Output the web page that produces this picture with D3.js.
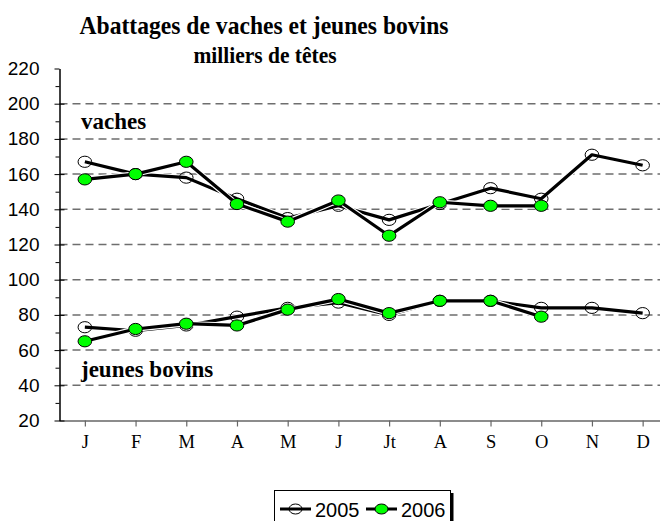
<!DOCTYPE html>
<html>
<head>
<meta charset="utf-8">
<script src="https://cdn.jsdelivr.net/npm/d3@7"></script>
<style>
  body { margin: 0; background: #fff; }
  svg { display: block; }
</style>
</head>
<body>
<div id="chart"></div>
<script>
// months
const months = ["J", "F", "M", "A", "M", "J", "Jt", "A", "S", "O", "N", "D"];
const yTicks = [20, 40, 60, 80, 100, 120, 140, 160, 180, 200, 220];

// vaches (thousand heads)
const vaches2005 = [167, 160, 158, 146, 135, 142, 134, 143, 152, 146, 171, 165];
const vaches2006 = [157, 160, 167, 143, 133, 145, 125, 144, 142, 142];

// jeunes bovins
const jb2005 = [73, 71, 74, 79, 84, 87, 80, 88, 88, 84, 84, 81];
const jb2006 = [65, 72, 75, 74, 83, 89, 81, 88, 88, 79];

const W = 660, H = 521;
const plotLeft = 59.5, plotRight = 668, plotTop = 68.5, plotBottom = 420.5;
const serif = "'Liberation Serif', 'Times New Roman', serif";
const sans = "'Liberation Sans', Arial, sans-serif";

const svg = d3.select("#chart").append("svg")
  .attr("width", W)
  .attr("height", H);

// title (slightly stretched vertically like the original)
svg.append("text")
  .attr("transform", "translate(264,34) scale(1,1.1)")
  .attr("text-anchor", "middle")
  .style("font-family", serif)
  .style("font-weight", "bold")
  .style("font-size", "23.6px")
  .text("Abattages de vaches et jeunes bovins");
svg.append("text")
  .attr("transform", "translate(265,63) scale(1,1.08)")
  .attr("text-anchor", "middle")
  .style("font-family", serif)
  .style("font-weight", "bold")
  .style("font-size", "21.5px")
  .text("milliers de têtes");

const x = d3.scalePoint()
  .domain(d3.range(months.length))
  .range([plotLeft, plotRight])
  .padding(0.5);

const y = d3.scaleLinear()
  .domain([20, 220])
  .range([plotBottom, plotTop]);

// gridlines
svg.append("g")
  .selectAll("line")
  .data(yTicks.filter(d => d > 20 && d < 220))
  .join("line")
    .attr("x1", plotLeft).attr("x2", plotRight)
    .attr("y1", d => y(d)).attr("y2", d => y(d))
    .attr("stroke", "#6e6e6e")
    .attr("stroke-width", 1.5)
    .attr("stroke-dasharray", "8,5");

// x axis
const xAxis = svg.append("g")
  .attr("transform", `translate(0,${plotBottom})`)
  .call(d3.axisBottom(x).tickSize(6).tickSizeOuter(0).tickFormat(i => months[i]));
xAxis.select(".domain").attr("d", `M${plotLeft},0.5H${plotRight}`).attr("stroke", "#666").attr("stroke-width", 1.5);
xAxis.selectAll(".tick line").attr("stroke", "#666").attr("stroke-width", 1.2);
xAxis.selectAll(".tick text")
  .attr("y", 14)
  .style("font-family", serif)
  .style("font-size", "18.5px")
  .attr("fill", "#000");

// y axis, minor ticks
svg.append("g")
  .attr("transform", `translate(${plotLeft},0)`)
  .call(d3.axisLeft(y).tickValues(d3.range(30, 220, 20)).tickSize(4).tickFormat(""))
  .call(g => g.select(".domain").remove());

// y axis, major ticks
const yAxis = svg.append("g")
  .attr("transform", `translate(${plotLeft},0)`)
  .call(d3.axisLeft(y).tickValues(yTicks).tickSize(5).tickSizeOuter(0).tickPadding(15));
yAxis.select(".domain").attr("stroke-width", 1.5);
yAxis.selectAll(".tick line").attr("x2", -5).attr("x1", d => d === 220 ? 0 : 5);
yAxis.selectAll(".tick text")
  .style("font-family", sans)
  .style("font-size", "19px")
  .attr("fill", "#000");

// labels
svg.append("text")
  .attr("x", 81).attr("y", 129)
  .style("font-family", serif)
  .style("font-weight", "bold")
  .style("font-size", "23px")
  .text("vaches");
svg.append("text")
  .attr("x", 81).attr("y", 377)
  .style("font-family", serif)
  .style("font-weight", "bold")
  .style("font-size", "23px")
  .text("jeunes bovins");

const line = d3.line()
  .x((d, i) => x(i))
  .y(d => y(d));

function drawSeries(values, fill) {
  const g = svg.append("g");
  g.append("path")
    .datum(values)
    .attr("d", line)
    .attr("fill", "none")
    .attr("stroke", "#fff")
    .attr("stroke-width", 5.5)
    .attr("stroke-linejoin", "round");
  g.append("path")
    .datum(values)
    .attr("d", line)
    .attr("fill", "none")
    .attr("stroke", "#000")
    .attr("stroke-width", 3.2)
    .attr("stroke-linejoin", "round");
  g.selectAll("ellipse")
    .data(values)
    .join("ellipse")
      .attr("cx", (d, i) => x(i))
      .attr("cy", d => y(d))
      .attr("rx", 6.8)
      .attr("ry", 5.6)
      .attr("fill", fill)
      .attr("stroke", "#000")
      .attr("stroke-width", 1);
}

drawSeries(vaches2005, "none");
drawSeries(jb2005, "none");
drawSeries(vaches2006, "#00ff00");
drawSeries(jb2006, "#00ff00");

// legend
const lg = svg.append("g");
lg.append("rect")
  .attr("x", 274.5).attr("y", 490.5)
  .attr("width", 176).attr("height", 40)
  .attr("fill", "#fff")
  .attr("stroke", "#000")
  .attr("stroke-width", 1);
lg.append("line")
  .attr("x1", 452).attr("x2", 452)
  .attr("y1", 493).attr("y2", 521)
  .attr("stroke", "#000").attr("stroke-width", 3);

const legendItems = [
  {name: "2005", fill: "none", x: 280},
  {name: "2006", fill: "#00ff00", x: 366}
];
legendItems.forEach(it => {
  lg.append("line")
    .attr("x1", it.x).attr("x2", it.x + 31)
    .attr("y1", 509).attr("y2", 509)
    .attr("stroke", "#000").attr("stroke-width", 3);
  lg.append("ellipse")
    .attr("cx", it.x + 15.5).attr("cy", 509)
    .attr("rx", 6.5).attr("ry", 5)
    .attr("fill", it.fill)
    .attr("stroke", "#000").attr("stroke-width", 1);
  lg.append("text")
    .attr("x", it.x + 35).attr("y", 516.5)
    .style("font-family", sans)
    .style("font-size", "20px")
    .text(it.name);
});
</script>
</body>
</html>
